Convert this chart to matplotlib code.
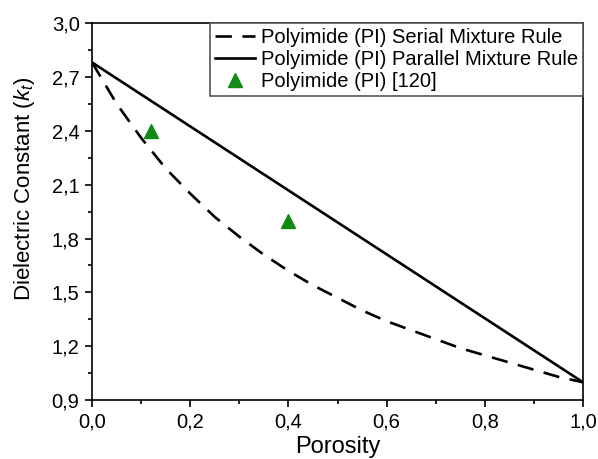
import matplotlib
matplotlib.use("Agg")
import matplotlib.pyplot as plt
from matplotlib.ticker import MultipleLocator, FuncFormatter

plt.rcParams["font.family"] = ["Liberation Sans", "DejaVu Sans"]
plt.rcParams["mathtext.fontset"] = "custom"
plt.rcParams["mathtext.it"] = "Liberation Sans:italic"
plt.rcParams["mathtext.rm"] = "Liberation Sans"

# porosité et constantes diélectriques
porosite = [0.0, 0.05, 0.1, 0.15, 0.2, 0.25, 0.3, 0.35, 0.4, 0.45, 0.5,
            0.55, 0.6, 0.65, 0.7, 0.75, 0.8, 0.85, 0.9, 0.95, 1.0]
k_serie = [2.78, 2.55, 2.36, 2.19, 2.05, 1.92, 1.81, 1.71, 1.62, 1.54, 1.47,
           1.40, 1.34, 1.29, 1.24, 1.19, 1.15, 1.11, 1.07, 1.03, 1.00]
# règle parallèle : droite entre les deux extrémités
porosite_par = [0.0, 1.0]
k_parallele = [2.78, 1.00]

# points expérimentaux [120]
p_exp = [0.12, 0.40]
k_exp = [2.40, 1.90]

fig, ax = plt.subplots(figsize=(5.98, 4.59), dpi=100)
fig.subplots_adjust(left=0.154, right=0.975, top=0.95, bottom=0.128)

ax.plot(porosite, k_serie, color="black", lw=1.9, ls=(0, (6.2, 4.0)),
        label="Polyimide (PI) Serial Mixture Rule")
ax.plot(porosite_par, k_parallele, color="black", lw=1.9,
        label="Polyimide (PI) Parallel Mixture Rule")
ax.plot(p_exp, k_exp, ls="none", marker="^", ms=10, color="#138a13",
        label="Polyimide (PI) [120]")

ax.set_xlim(0, 1)
ax.set_ylim(0.9, 3.0)
ax.xaxis.set_major_locator(MultipleLocator(0.2))
ax.xaxis.set_minor_locator(MultipleLocator(0.1))
ax.yaxis.set_major_locator(MultipleLocator(0.3))
ax.yaxis.set_minor_locator(MultipleLocator(0.15))
virgule = FuncFormatter(lambda v, _: f"{v:.1f}".replace(".", ","))
ax.xaxis.set_major_formatter(virgule)
ax.yaxis.set_major_formatter(virgule)
ax.tick_params(which="major", direction="out", length=5, width=1.2, labelsize=14.5, pad=4)
ax.tick_params(which="minor", direction="out", length=3, width=1.2)
for s in ax.spines.values():
    s.set_linewidth(1.2)

ax.set_xlabel("Porosity", fontsize=17, labelpad=3)
ax.set_ylabel("Dielectric Constant ($k_t$)", fontsize=16)
ax.yaxis.set_label_coords(-0.112, 0.56)

leg = ax.legend(loc="upper right", borderaxespad=0, fontsize=14.5, fancybox=False,
                handlelength=2.0, handletextpad=0.3, labelspacing=0.15,
                borderpad=0.25, framealpha=1)
leg.get_frame().set_edgecolor("#555555")
leg.get_frame().set_linewidth(1.2)

fig.savefig("out.png", dpi=100)
